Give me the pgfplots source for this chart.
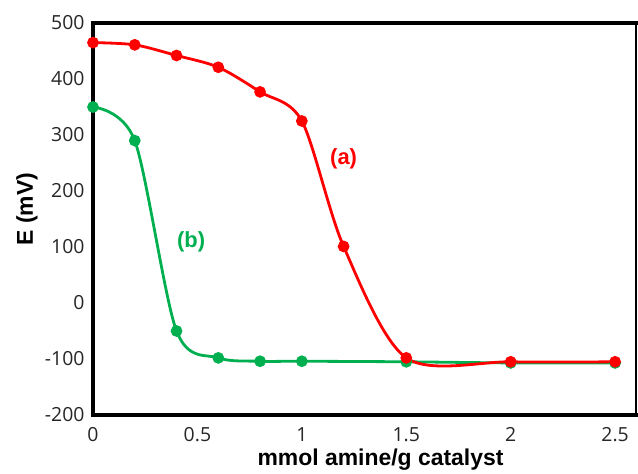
\documentclass[border=0pt]{standalone}
\usepackage{pgfplots}
\pgfplotsset{compat=1.18}
\usepackage{fontspec}
\setmainfont{Liberation Sans}
\newfontfamily\tickfont{Open Sans}
\definecolor{cred}{RGB}{255,0,0}
\definecolor{cgreen}{RGB}{0,176,80}
\begin{document}
\begin{tikzpicture}
\path[use as bounding box] (0,0) rectangle (638bp,474bp);
\begin{axis}[
  at={(93bp,59bp)}, anchor=south west,
  scale only axis, width=543bp, height=392bp,
  axis line style={draw=none},
  xmin=0, xmax=2.6, ymin=-200, ymax=500,
  xtick={0,0.5,1,1.5,2,2.5},
  ytick={-200,-100,0,100,200,300,400,500},
  major tick length=0pt,
  /pgf/number format/assume math mode=true,
  ticklabel style={font=\tickfont\fontsize{19.5}{22}\selectfont, text=black!85},
  xticklabel style={yshift=-9bp},
  yticklabel style={xshift=-5bp},
  xlabel={\textbf{mmol amine/g catalyst}},
  ylabel={\textbf{E (mV)}},
  label style={font=\fontsize{23}{26}\selectfont},
  xlabel style={at={(axis description cs:0.5295,-0.1276)}, anchor=base},
  ylabel style={at={(axis description cs:-0.1218,0.5255)}, anchor=center},
  clip=false,
]
\addplot[cgreen, line width=2.8bp, smooth, tension=0.5, mark=*, mark size=4.4bp, mark options={fill=cgreen, draw=cgreen}]
coordinates {(0,350) (0.2,290) (0.4,-50) (0.6,-98) (0.8,-104) (1.0,-104) (1.5,-105) (2.0,-107) (2.5,-107)};
\addplot[cred, line width=2.8bp, smooth, tension=0.5, mark=*, mark size=4.4bp, mark options={fill=cred, draw=cred}]
coordinates {(0,465) (0.2,461) (0.4,442) (0.6,421) (0.8,377) (1.0,325) (1.2,101) (1.5,-98) (2.0,-105) (2.5,-105)};
\node[text=cred, font=\bfseries\fontsize{22}{26}\selectfont] at (axis cs:1.2,258) {(a)};
\node[text=cgreen, font=\bfseries\fontsize{22}{26}\selectfont] at (axis cs:0.47,110) {(b)};
\draw[line width=1.5bp] (rel axis cs:1,0) -- (rel axis cs:1,1);
\draw[line width=3.5bp, line cap=rect] (rel axis cs:1,1) -- (rel axis cs:0,1) -- (rel axis cs:0,0) -- (rel axis cs:1,0);
\end{axis}
\end{tikzpicture}
\end{document}
